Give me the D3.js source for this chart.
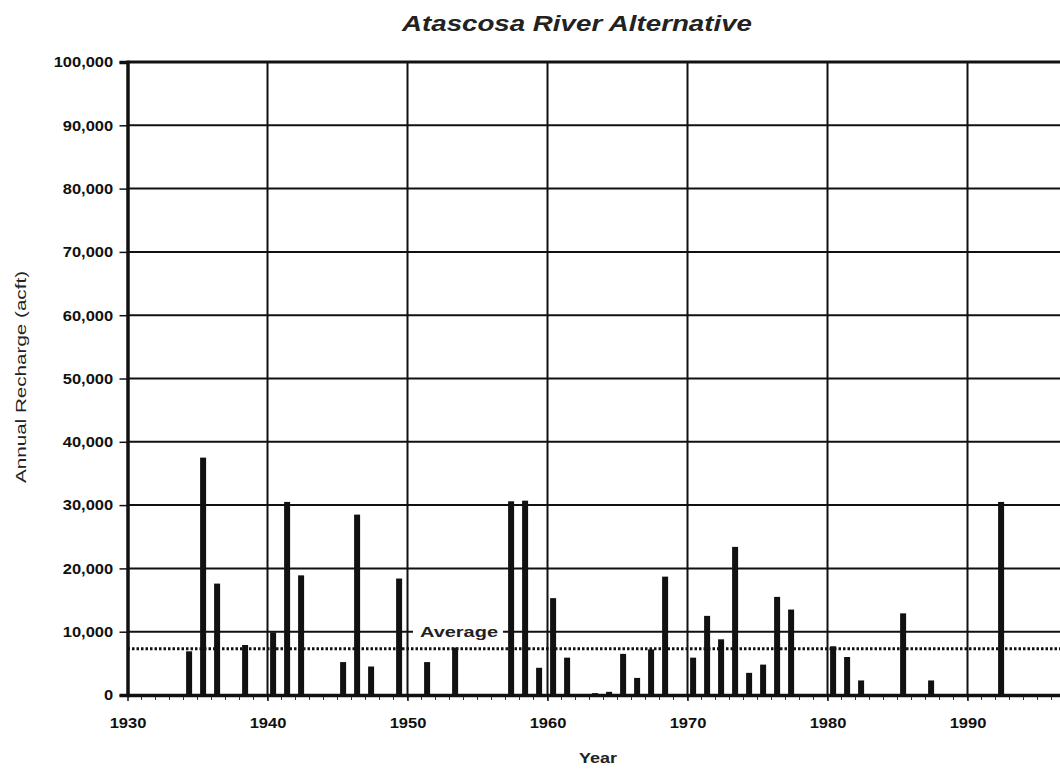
<!DOCTYPE html>
<html>
<head>
<meta charset="utf-8">
<script src="https://cdn.jsdelivr.net/npm/d3@7"></script>
<style>
  body { margin: 0; background: #fff; }
  svg { display: block; font-family: "Liberation Sans", Arial, sans-serif; }
  .tick text { font-size: 15px; fill: #111; }
</style>
</head>
<body>
<div id="chart"></div>
<script>
// annual recharge, acre-feet
const years = [1934, 1935, 1936, 1938, 1940, 1941, 1942, 1945, 1946, 1947, 1949, 1951, 1953,
  1957, 1958, 1959, 1960, 1961, 1963, 1964, 1965, 1966, 1967, 1968, 1970, 1971, 1972, 1973,
  1974, 1975, 1976, 1977, 1980, 1981, 1982, 1985, 1987, 1992];
const recharge = [6900, 37500, 17600, 7900, 9900, 30500, 18900, 5200, 28500, 4500, 18400, 5200, 7500,
  30600, 30700, 4300, 15300, 5900, 300, 500, 6500, 2700, 7200, 18700, 5900, 12500, 8800, 23400,
  3500, 4800, 15500, 13500, 7700, 6000, 2300, 12900, 2300, 30500];
const yTicks = [0, 10000, 20000, 30000, 40000, 50000, 60000, 70000, 80000, 90000, 100000];
const xTicks = [1930, 1940, 1950, 1960, 1970, 1980, 1990];
const average = 7300;

const W = 1060, H = 772;
const svg = d3.select('#chart').append('svg').attr('width', W).attr('height', H);

const x = d3.scaleLinear().domain([1930, 2000]).range([127.5, 127.5 + 70 * 14]);
const y = d3.scaleLinear().domain([0, 100000]).range([695, 62]);
const data = years.map((yr, i) => ({year: yr, value: recharge[i]}));

// gridlines
svg.append('g').selectAll('line.hg')
  .data(yTicks.slice(1, -1))
  .enter().append('line')
    .attr('x1', x(1930)).attr('x2', W)
    .attr('y1', d => y(d)).attr('y2', d => y(d))
    .attr('stroke', '#111').attr('stroke-width', 2);
svg.append('g').selectAll('line.vg')
  .data(xTicks.slice(1))
  .enter().append('line')
    .attr('x1', d => x(d)).attr('x2', d => x(d))
    .attr('y1', y(100000)).attr('y2', y(0))
    .attr('stroke', '#111').attr('stroke-width', 2);

// average label sits on a white patch over the 10,000 gridline
svg.append('rect')
  .attr('x', 413).attr('y', y(10000) - 9).attr('width', 90).attr('height', 18)
  .attr('fill', '#fff');
svg.append('text')
  .attr('x', 420).attr('y', y(10000) + 5)
  .attr('font-size', 15).attr('font-weight', 'bold').attr('fill', '#222')
  .attr('textLength', 78).attr('lengthAdjust', 'spacingAndGlyphs')
  .text('Average');

// bars
svg.append('g').selectAll('rect.bar')
  .data(data)
  .enter().append('rect')
    .attr('class', 'bar')
    .attr('x', d => x(d.year + 0.4) - 3)
    .attr('width', 6)
    .attr('y', d => y(d.value))
    .attr('height', d => y(0) - y(d.value))
    .attr('fill', '#111');

// average dotted line
svg.append('line')
  .attr('x1', x(1930)).attr('x2', W)
  .attr('y1', y(average)).attr('y2', y(average))
  .attr('stroke', '#111').attr('stroke-width', 3)
  .attr('stroke-dasharray', '2.5,2');

// top border
svg.append('line')
  .attr('x1', x(1930) - 1).attr('x2', W)
  .attr('y1', y(100000)).attr('y2', y(100000))
  .attr('stroke', '#111').attr('stroke-width', 3);

// minor year ticks under the baseline
svg.append('g').selectAll('line.mt')
  .data(d3.range(1931, 1997))
  .enter().append('line')
    .attr('x1', d => x(d)).attr('x2', d => x(d))
    .attr('y1', y(0)).attr('y2', y(0) + 5)
    .attr('stroke', '#333').attr('stroke-width', 1);

// axes
const yAxis = svg.append('g')
  .attr('transform', `translate(${x(1930)},0)`)
  .call(d3.axisLeft(y).tickValues(yTicks).tickFormat(d3.format(',')).tickSize(8).tickPadding(5));
yAxis.select('.domain').attr('stroke', '#111').attr('stroke-width', 3.5);
yAxis.selectAll('.tick line').attr('stroke', '#111').attr('stroke-width', 1.5);
yAxis.selectAll('.tick text').attr('font-weight', 'bold').attr('transform', 'scale(1.1,1)');

const xAxis = svg.append('g')
  .attr('transform', `translate(0,${y(0)})`)
  .call(d3.axisBottom(x).tickValues(xTicks).tickFormat(d3.format('d')).tickSize(6).tickPadding(16).tickSizeOuter(0));
xAxis.select('.domain').attr('stroke', '#111').attr('stroke-width', 3.5);
xAxis.selectAll('.tick line').attr('stroke', '#111').attr('stroke-width', 1.5);
xAxis.selectAll('.tick text').attr('font-weight', 'bold').attr('transform', 'scale(1.1,1)');

// titles
svg.append('text')
  .attr('x', 577).attr('y', 31)
  .attr('text-anchor', 'middle')
  .attr('font-size', 22).attr('font-weight', 'bold').attr('font-style', 'italic')
  .attr('fill', '#222')
  .attr('textLength', 350).attr('lengthAdjust', 'spacingAndGlyphs')
  .text('Atascosa River Alternative');

svg.append('text')
  .attr('x', 598).attr('y', 763)
  .attr('text-anchor', 'middle')
  .attr('font-size', 15).attr('font-weight', 'bold').attr('fill', '#222')
  .attr('textLength', 38).attr('lengthAdjust', 'spacingAndGlyphs')
  .text('Year');

svg.append('text')
  .attr('transform', 'translate(26,377) rotate(-90)')
  .attr('text-anchor', 'middle')
  .attr('font-size', 15).attr('fill', '#222')
  .attr('textLength', 212).attr('lengthAdjust', 'spacingAndGlyphs')
  .text('Annual Recharge (acft)');
</script>
</body>
</html>
